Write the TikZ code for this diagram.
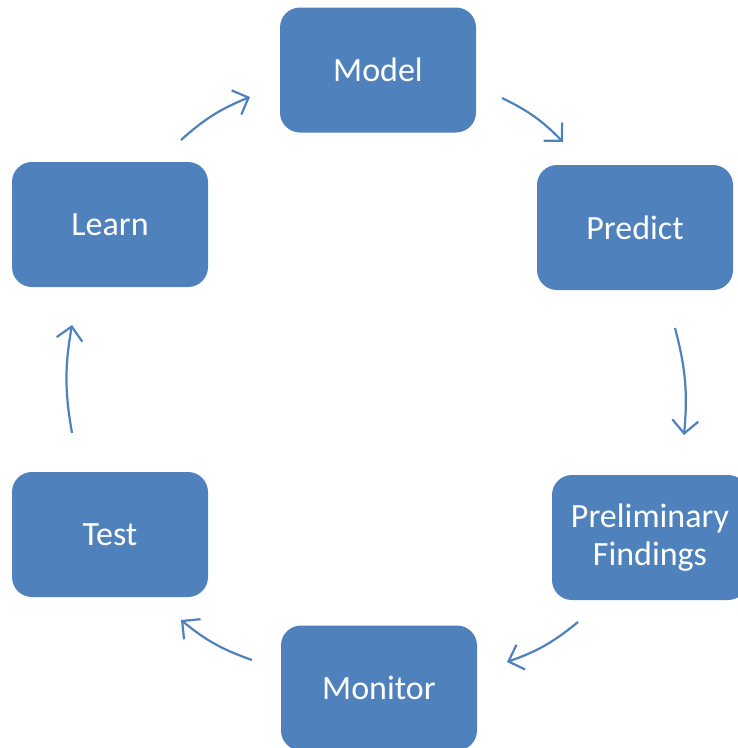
\documentclass[tikz,border=0pt]{standalone}
\usepackage{fontspec}
\setmainfont{Carlito}
\usetikzlibrary{arrows.meta}
\definecolor{boxblue}{HTML}{4F81BD}
\begin{document}
\begin{tikzpicture}[x=1pt,y=1pt,
  stepbox/.style={fill=boxblue, draw=none, rounded corners=20pt,
    minimum width=196pt, minimum height=125pt, inner sep=0pt,
    text=white, font=\fontsize{34}{38}\selectfont, align=center},
  cyc/.style={draw=boxblue, line width=2.2pt,
    -{Straight Barb[length=13pt,width=26pt,line width=2.2pt]}, bend left=10}]
\useasboundingbox (0,0) rectangle (738,-748);
\clip (0,0) rectangle (738,-748);
\node[stepbox] (model) at (378,-70) {Model};
\node[stepbox] (predict) at (635,-227.5) {Predict};
\node[stepbox] (prelim) at (650,-537.5) {Preliminary\\Findings};
\node[stepbox] (monitor) at (379,-688) {Monitor};
\node[stepbox] (test) at (110,-534.5) {Test};
\node[stepbox] (learn) at (110,-224.5) {Learn};
\coordinate (a1s) at (181,-140); \coordinate (a1e) at (250,-97);
\coordinate (a2s) at (502,-98);  \coordinate (a2e) at (563,-142);
\coordinate (a3s) at (675,-328); \coordinate (a3e) at (684,-435);
\coordinate (a4s) at (578,-622); \coordinate (a4e) at (507,-662);
\coordinate (a5s) at (252,-660); \coordinate (a5e) at (181,-620);
\coordinate (a6s) at (72,-433);  \coordinate (a6e) at (72,-325);
\draw[cyc] (a1s) to (a1e);
\draw[cyc] (a2s) to (a2e);
\draw[cyc] (a3s) to (a3e);
\draw[cyc] (a4s) to (a4e);
\draw[cyc] (a5s) to (a5e);
\draw[cyc] (a6s) to (a6e);
\end{tikzpicture}
\end{document}
